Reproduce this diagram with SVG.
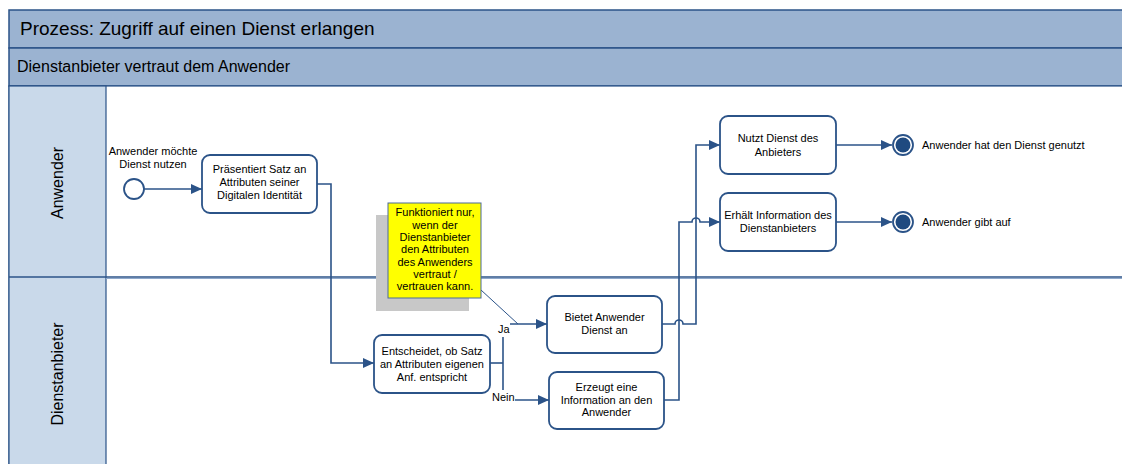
<svg xmlns="http://www.w3.org/2000/svg" width="1122" height="464" viewBox="0 0 1122 464">
<style>
.t{font-family:"Liberation Sans",Arial,sans-serif;fill:#000}
.s{font-size:11px;text-anchor:middle}
.l{font-size:11px}
.task{fill:#fff;stroke:#2b5388;stroke-width:1.8}
.con{fill:none;stroke:#2b5388;stroke-width:1.6}
.band{fill:#9bb3d1;stroke:#2b5388;stroke-width:1.5}
.lanehdr{fill:#c9d9ea;stroke:#2b5388;stroke-width:1.2}
</style>
<defs>
<marker id="arr" markerUnits="userSpaceOnUse" markerWidth="11" markerHeight="10" refX="11" refY="5" orient="auto">
<path d="M0,0 L11,5 L0,10 z" fill="#2b5388"/>
</marker>
</defs>
<rect width="1122" height="464" fill="#fff"/>
<g id="pool">
<rect class="band" x="9" y="10" width="1125" height="38"/>
<rect class="band" x="9" y="48" width="1125" height="38"/>
<text class="t" x="20" y="35" font-size="19">Prozess: Zugriff auf einen Dienst erlangen</text>
<text class="t" x="17" y="72" font-size="16">Dienstanbieter vertraut dem Anwender</text>
<rect x="9" y="86" width="1125" height="390" fill="#fff" stroke="#2b5388" stroke-width="1.2"/>
<rect class="lanehdr" x="9" y="86" width="97" height="390"/>
<line x1="9" y1="277" x2="1122" y2="277" stroke="#2b5388" stroke-width="1.5"/>
<line x1="106" y1="278.5" x2="1122" y2="278.5" stroke="#8fa9cc" stroke-width="1"/>
</g>
<g id="lane-anwender">
<text class="t" font-size="16" text-anchor="middle" transform="translate(63,183) rotate(-90)">Anwender</text>
</g>
<g id="lane-dienstanbieter">
<text class="t" font-size="16" text-anchor="middle" transform="translate(63,374) rotate(-90)">Dienstanbieter</text>
</g>
<g id="connectors">
<path class="con" d="M144,189 H202" marker-end="url(#arr)"/>
<path class="con" d="M317,184 H331 V363 H374" marker-end="url(#arr)"/>
<path class="con" d="M490,363 H503"/>
<path class="con" d="M503,337 V390"/>
<path class="con" d="M510,324 H547" marker-end="url(#arr)"/>
<path class="con" d="M515,400 H549" marker-end="url(#arr)"/>
<path class="con" d="M662,324 H675 a4,4 0 0 1 8,0 H696 V145 H720" marker-end="url(#arr)"/>
<path class="con" d="M664,400 H679 V222 H692 a4,4 0 0 1 8,0 H720" marker-end="url(#arr)"/>
<path class="con" d="M836,145 H892" marker-end="url(#arr)"/>
<path class="con" d="M836,222 H892" marker-end="url(#arr)"/>
<path d="M481,290 L518,324" fill="none" stroke="#2b5388" stroke-width="1"/>
<text class="t l" x="498" y="333">Ja</text>
<text class="t l" x="492" y="401">Nein</text>
</g>
<g id="start">
<circle cx="134" cy="189" r="10" fill="#fff" stroke="#2b5388" stroke-width="1.8"/>
<text class="t s" x="153" y="155">Anwender möchte</text>
<text class="t s" x="153" y="168">Dienst nutzen</text>
</g>
<g id="task-praesentiert">
<rect class="task" x="202" y="155" width="115" height="58" rx="8"/>
<text class="t s" x="259.5" y="173">Präsentiert Satz an</text>
<text class="t s" x="259.5" y="186">Attributen seiner</text>
<text class="t s" x="259.5" y="199">Digitalen Identität</text>
</g>
<g id="task-entscheidet">
<rect class="task" x="374" y="335" width="116" height="58" rx="8"/>
<text class="t s" x="432" y="355">Entscheidet, ob Satz</text>
<text class="t s" x="432" y="368">an Attributen eigenen</text>
<text class="t s" x="432" y="381">Anf. entspricht</text>
</g>
<g id="task-bietet">
<rect class="task" x="547" y="296" width="115" height="57" rx="8"/>
<text class="t s" x="604.5" y="321">Bietet Anwender</text>
<text class="t s" x="604.5" y="334">Dienst an</text>
</g>
<g id="task-erzeugt">
<rect class="task" x="549" y="372" width="115" height="57" rx="8"/>
<text class="t s" x="606.5" y="391">Erzeugt eine</text>
<text class="t s" x="606.5" y="404">Information an den</text>
<text class="t s" x="606.5" y="416">Anwender</text>
</g>
<g id="task-nutzt">
<rect class="task" x="720" y="116" width="116" height="58" rx="8"/>
<text class="t s" x="778" y="142">Nutzt Dienst des</text>
<text class="t s" x="778" y="156">Anbieters</text>
</g>
<g id="task-erhaelt">
<rect class="task" x="720" y="193" width="116" height="58" rx="8"/>
<text class="t s" x="778" y="219">Erhält Information des</text>
<text class="t s" x="778" y="232">Dienstanbieters</text>
</g>
<g id="end-genutzt">
<circle cx="903" cy="145" r="10" fill="#fff" stroke="#2b5388" stroke-width="1.8"/>
<circle cx="903" cy="145" r="7.5" fill="#1f4a80"/>
<text class="t l" x="922" y="149">Anwender hat den Dienst genutzt</text>
</g>
<g id="end-aufgeben">
<circle cx="903" cy="222" r="10" fill="#fff" stroke="#2b5388" stroke-width="1.8"/>
<circle cx="903" cy="222" r="7.5" fill="#1f4a80"/>
<text class="t l" x="922" y="226">Anwender gibt auf</text>
</g>
<g id="annotation">
<rect x="376" y="215" width="93" height="96" fill="#c8c8c8"/>
<rect x="388" y="203" width="93" height="95" fill="#ffff00" stroke="#4a6a9a" stroke-width="1"/>
<text class="t s" x="435" y="216">Funktioniert nur,</text>
<text class="t s" x="435" y="228.5">wenn der</text>
<text class="t s" x="435" y="241">Dienstanbieter</text>
<text class="t s" x="435" y="253">den Attributen</text>
<text class="t s" x="435" y="265.5">des Anwenders</text>
<text class="t s" x="435" y="278">vertraut /</text>
<text class="t s" x="435" y="290">vertrauen kann.</text>
</g>
</svg>
